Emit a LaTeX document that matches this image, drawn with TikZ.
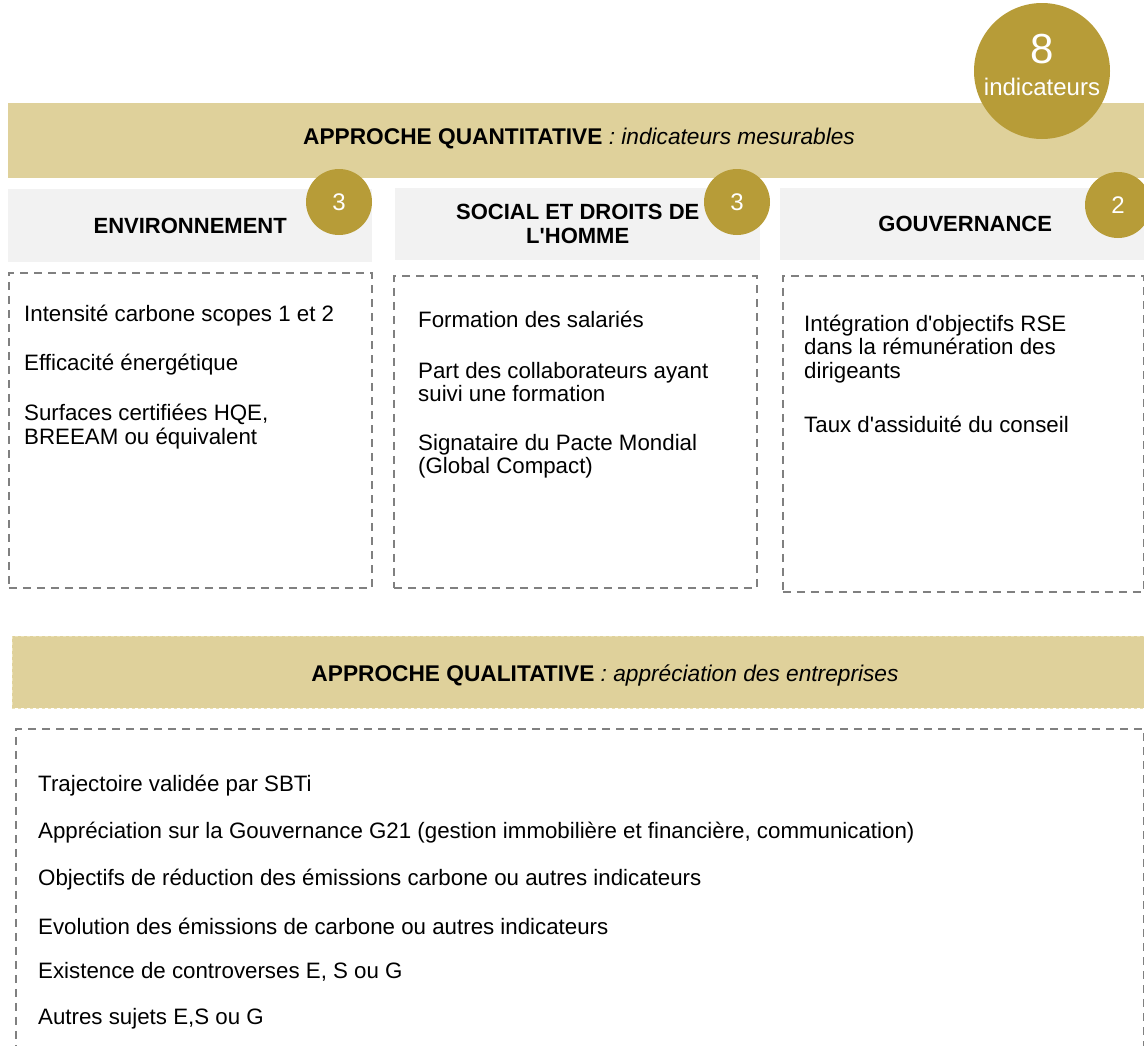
\documentclass[tikz,border=0pt]{standalone}
\usepackage{fontspec}
\setmainfont{Liberation Sans}
\definecolor{bandtan}{RGB}{223,209,155}
\definecolor{bandedge}{RGB}{236,226,182}
\definecolor{gold}{RGB}{183,156,56}
\definecolor{headgray}{RGB}{242,242,242}
\definecolor{dashgray}{RGB}{128,128,128}

\begin{document}
\begin{tikzpicture}
	[x=1pt,y=-1pt,
	 bandbox/.style={fill=bandtan,anchor=north west,inner sep=0pt,outer sep=0pt},
	 bandtext/.style={font=\fontsize{22.7}{24}\selectfont},
	 headbox/.style={fill=headgray,anchor=north west,inner sep=0pt,align=center,font=\bfseries\fontsize{22}{24}\selectfont},
	 listbox/.style={draw=dashgray,line width=1.6pt,dash pattern=on 8pt off 6pt,anchor=north west,inner sep=0pt},
	 countdot/.style={circle,fill=gold,text=white,minimum size=66pt,inner sep=0pt,font=\fontsize{24}{24}\selectfont},
	 itemtext/.style={anchor=west,align=left,inner sep=0pt,font=\fontsize{22.3}{23.5}\selectfont}];
\useasboundingbox (0,0) rectangle (1144,1045);

% approche quantitative
\node[bandbox,minimum width=1140pt,minimum height=75pt] (quanti) at (8,103) {};
\node[bandtext] (quantitxt) at (579,139) {\textbf{APPROCHE QUANTITATIVE} \textit{: indicateurs mesurables}};

\node[headbox,minimum width=364pt,minimum height=73pt] (envhead) at (8,189) {ENVIRONNEMENT};
\node[headbox,minimum width=365pt,minimum height=72pt] (sochead) at (395,188) {SOCIAL ET DROITS DE\\L\textquotesingle HOMME};
\node[headbox,minimum width=370pt,minimum height=72pt] (govhead) at (780,188) {GOUVERNANCE};

\node[listbox,minimum width=363pt,minimum height=315pt] (envlist) at (8,272) {};
\node[listbox,minimum width=363pt,minimum height=312pt] (soclist) at (393,275) {};
\node[listbox,minimum width=361pt,minimum height=316pt] (govlist) at (782,275) {};

\node[itemtext] (env1) at (24,316) {Intensité carbone scopes 1 et 2};
\node[itemtext] (env2) at (24,365) {Efficacité énergétique};
\node[itemtext] (env3) at (24,426.5) {Surfaces certifiées HQE,\\BREEAM ou équivalent};

\node[itemtext] (soc1) at (418,319) {Formation des salariés};
\node[itemtext] (soc2) at (418,382) {Part des collaborateurs ayant\\suivi une formation};
\node[itemtext] (soc3) at (418,456) {Signataire du Pacte Mondial\\(Global Compact)};

\node[itemtext] (gov1) at (804,349) {Intégration d\textquotesingle objectifs RSE\\dans la rémunération des\\dirigeants};
\node[itemtext] (gov2) at (804,424) {Taux d\textquotesingle assiduité du conseil};

% pastilles
\node[countdot,minimum size=136pt] (total) at (1042,71) {};
\node[text=white,font=\fontsize{42}{42}\selectfont,anchor=base] (total8) at (1042,63) {8};
\node[text=white,font=\fontsize{24}{26}\selectfont,anchor=base] (totaltxt) at (1042,95) {indicateurs};
\node[countdot] (envnb) at (339,202) {3};
\node[countdot] (socnb) at (737,202) {3};
\node[countdot] (govnb) at (1118,205) {2};

% approche qualitative
\node[bandbox,draw=bandedge,line width=1pt,dashed,minimum width=1140pt,minimum height=72pt] (quali) at (12,636) {};
\node[bandtext] (qualitxt) at (605,675) {\textbf{APPROCHE QUALITATIVE} \textit{: appréciation des entreprises}};

\node[listbox,minimum width=1128pt,minimum height=340pt] (qualilist) at (15,728) {};

\node[itemtext] (q1) at (38,786) {Trajectoire validée par SBTi};
\node[itemtext] (q2) at (38,833) {Appréciation sur la Gouvernance G21 (gestion immobilière et financière, communication)};
\node[itemtext] (q3) at (38,880) {Objectifs de réduction des émissions carbone ou autres indicateurs};
\node[itemtext] (q4) at (38,926) {Evolution des émissions de carbone ou autres indicateurs};
\node[itemtext] (q5) at (38,972) {Existence de controverses E, S ou G};
\node[itemtext] (q6) at (38,1019) {Autres sujets E,S ou G};
\end{tikzpicture}
\end{document}
